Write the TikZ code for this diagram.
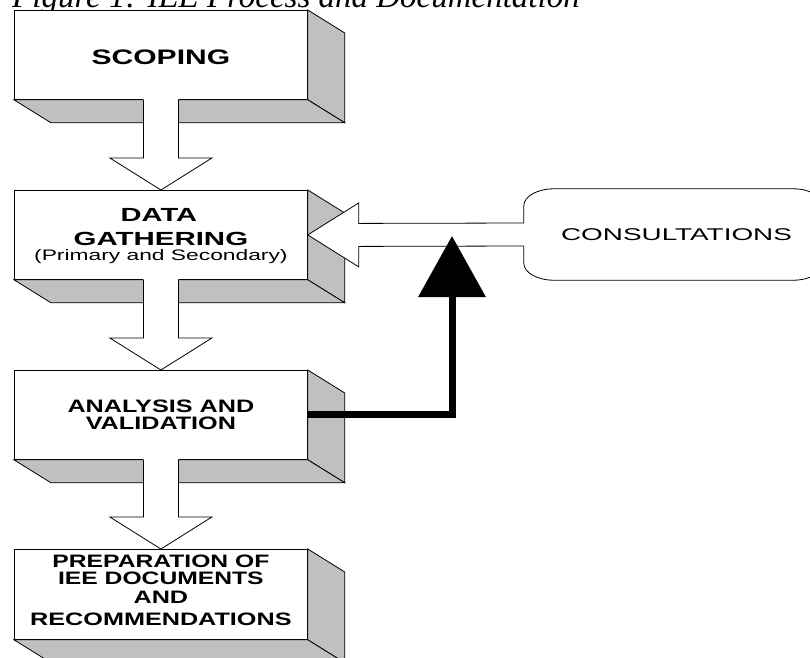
\documentclass[tikz,border=0pt]{standalone}
\usepackage{fontspec}
\setmainfont{Liberation Serif}
\newfontfamily\boxfont{Liberation Sans}
\usetikzlibrary{calc,arrows.meta}
\definecolor{sidegray}{RGB}{192,192,192}

% horizontally widened text
\newcommand\stretchx[2]{\scalebox{#1}[1]{#2}}

% grey right and bottom faces of a 3-D block behind a front-face node
\newcommand\extrude[1]{%
  \path[sideface] (#1.north east) -- ++(37,23) -- ($(#1.south east)+(37,23)$) -- (#1.south east) -- cycle;
  \path[sideface] (#1.south west) -- ++(37,23) -- ($(#1.south east)+(37,23)$) -- (#1.south east) -- cycle;}

% hollow block arrow from the bottom of one block to the top of the next
\newcommand\blockdown[2]{%
  \fill[white] ($(#1.south)+(-17.5,-1)$) -- ($(#2.north)+(-17.5,-32)$) -- ($(#2.north)+(-51,-32)$) -- (#2.north)
     -- ($(#2.north)+(51,-32)$) -- ($(#2.north)+(17.5,-32)$) -- ($(#1.south)+(17.5,-1)$) -- cycle;
  \draw[outline] ($(#1.south)+(-17.5,0)$) -- ($(#2.north)+(-17.5,-32)$) -- ($(#2.north)+(-51,-32)$) -- (#2.north)
     -- ($(#2.north)+(51,-32)$) -- ($(#2.north)+(17.5,-32)$) -- ($(#1.south)+(17.5,0)$);}

\begin{document}
\begin{tikzpicture}[x=1pt,y=-1pt,
  outline/.style={draw=black, line width=0.8pt, line join=miter},
  sideface/.style={outline, fill=sidegray},
  face/.style={outline, fill=white, rectangle, minimum width=293pt, minimum height=89pt,
               anchor=north west, inner sep=0pt},
  lbl/.style={anchor=base, inner sep=0pt},
  bold/.style={font=\boxfont\bfseries\fontsize{#1}{#1}\selectfont},
  plain/.style={font=\boxfont\fontsize{#1}{#1}\selectfont},
  feedback/.style={draw=black, line width=7pt, line join=miter,
                   -{Triangle[length=61pt,width=66pt]}},
]
\useasboundingbox (0,0) rectangle (810,657);
\clip (0,0) rectangle (810,657);

% caption
\node[anchor=base west, inner sep=0pt, font=\itshape\fontsize{33}{33}\selectfont]
  (caption) at (12,7.5) {Figure 1: IEE Process and Documentation};

% front faces of the four process blocks
\node[face] (scoping)  at (14,10)  {};
\node[face] (gather)   at (14,190) {};
\node[face] (analysis) at (14,370) {};
\node[face, minimum height=90pt] (prep) at (14,549) {};

\extrude{scoping}
\extrude{gather}
\extrude{analysis}
\extrude{prep}

% block labels
\node[lbl, bold=21] (t-scop) at ($(scoping.north)+(0,54.5)$) {\stretchx{1.43}{SCOPING}};

\node[lbl, bold=19] (t-gat1) at ($(gather.north)+(-2,31.5)$) {\stretchx{1.53}{DATA}};
\node[lbl, bold=19] (t-gat2) at ($(gather.north)+(0,55)$) {\stretchx{1.55}{GATHERING}};
\node[lbl, plain=15.2] (t-gat3) at ($(gather.north)+(0,70.5)$) {\stretchx{1.5}{(Primary and Secondary)}};

\node[lbl, bold=18] (t-ana1) at ($(analysis.north)+(0,42)$) {\stretchx{1.4}{ANALYSIS AND}};
\node[lbl, bold=18] (t-ana2) at ($(analysis.north)+(0,59)$) {\stretchx{1.4}{VALIDATION}};

\node[lbl, bold=18] (t-pre1) at ($(prep.north)+(0,18)$) {\stretchx{1.37}{PREPARATION OF}};
\node[lbl, bold=18] (t-pre2) at ($(prep.north)+(0,35.5)$) {\stretchx{1.37}{IEE DOCUMENTS}};
\node[lbl, bold=18] (t-pre3) at ($(prep.north)+(0,54.5)$) {\stretchx{1.4}{AND}};
\node[lbl, bold=18] (t-pre4) at ($(prep.north)+(0,76)$) {\stretchx{1.4}{RECOMMENDATIONS}};

% flow between blocks
\blockdown{scoping}{gather}
\blockdown{gather}{analysis}
\blockdown{analysis}{prep}

% consultations box with elliptical corners
\node[minimum width=299pt, minimum height=91pt, inner sep=0pt, plain=17] (consult) at (673.5,234.5)
  {\hspace*{6pt}\stretchx{1.64}{CONSULTATIONS}};
\draw[outline] ($(consult.north west)+(30,0)$) -- ($(consult.north east)+(-30,0)$)
  arc[start angle=270, end angle=360, x radius=30, y radius=17]
  -- ($(consult.south east)+(0,-17)$)
  arc[start angle=0, end angle=90, x radius=30, y radius=17]
  -- ($(consult.south west)+(30,0)$)
  arc[start angle=90, end angle=180, x radius=30, y radius=17]
  -- ($(consult.north west)+(0,17)$)
  arc[start angle=180, end angle=270, x radius=30, y radius=17] -- cycle;

% hollow arrow from consultations into data gathering
\fill[white] ($(consult.west)+(1,-11.5)$) -- ($(gather.east)+(51,-11.5)$) -- ($(gather.east)+(51,-32)$)
  -- (gather.east) -- ($(gather.east)+(51,32)$) -- ($(gather.east)+(51,11.5)$) -- ($(consult.west)+(1,11.5)$) -- cycle;
\draw[outline] ($(consult.west)+(0,-11.5)$) -- ($(gather.east)+(51,-11.5)$) -- ($(gather.east)+(51,-32)$)
  -- (gather.east) -- ($(gather.east)+(51,32)$) -- ($(gather.east)+(51,11.5)$) -- ($(consult.west)+(0,11.5)$);

% feedback from analysis back into the consultation flow
\coordinate (merge) at (452,236);
\draw[feedback] (analysis.east) -| (merge);
\end{tikzpicture}
\end{document}
